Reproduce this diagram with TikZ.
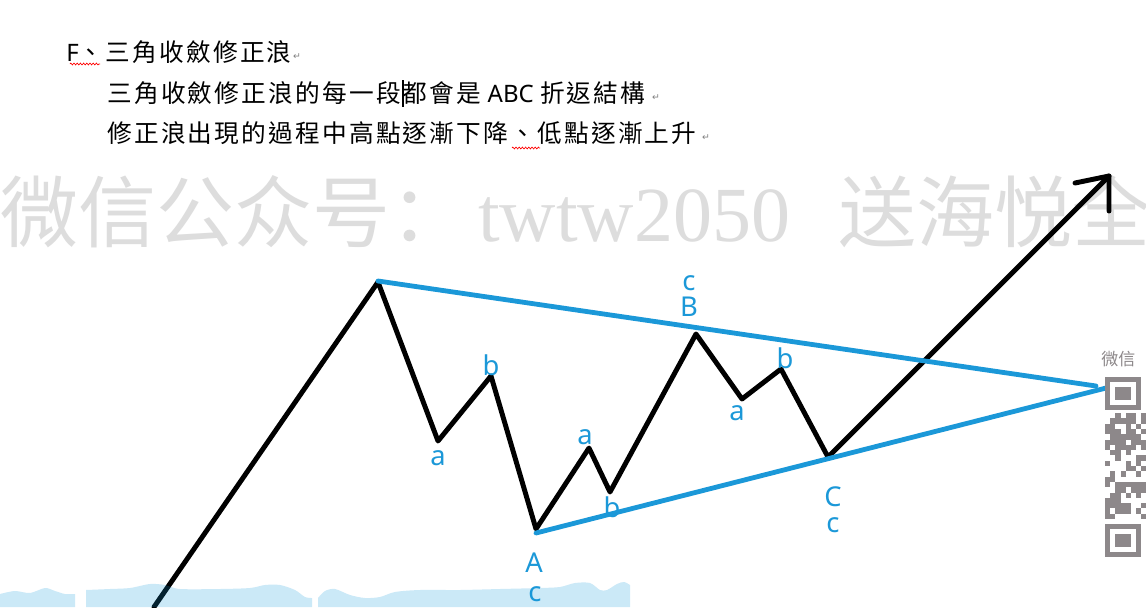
\documentclass[tikz,border=0pt]{standalone}
\usepackage{fontspec}
\newfontfamily\cjk[LetterSpace=9]{Noto Sans CJK TC}
\newfontfamily\cjksc{Noto Sans CJK SC}
\newfontfamily\labfont{Noto Sans}
\newfontfamily\serfont{Liberation Serif}
\newfontfamily\dvfont{DejaVu Sans}
\usetikzlibrary{decorations.pathmorphing}
\definecolor{wblue}{RGB}{27,152,216}
\definecolor{wmark}{RGB}{221,221,221}
\definecolor{qrgray}{RGB}{141,136,138}
\definecolor{bandc}{RGB}{20,155,220}
\newcommand\latn{\labfont\fontsize{18}{20}\selectfont}
\begin{document}
\begin{tikzpicture}[x=0.75pt,y=-0.75pt,
  wave/.style={line width=3.7pt,line join=round,line cap=round,black},
  trend/.style={line width=3.6pt,wblue,line cap=round},
  lbl/.style={text=wblue,font=\labfont\fontsize{20.5}{24}\selectfont,inner sep=0},
  txt/.style={inner sep=0,anchor=west,font=\cjk\fontsize{18.5}{20}\selectfont},
  wm/.style={inner sep=0,anchor=base west,text=wmark,font=\cjksc\fontsize{58.5}{60}\selectfont},
  wmlat/.style={inner sep=0,anchor=base west,text=wmark,font=\serfont\fontsize{58.5}{60}\selectfont},
  pmark/.style={inner sep=0,text=gray,font=\dvfont\fontsize{7}{8}\selectfont},
  squig/.style={red,line width=0.5pt,decorate,decoration={zigzag,amplitude=0.7pt,segment length=2.4pt}},
  bandfill/.style={fill=bandc,fill opacity=0.22},
  qr/.style={fill=qrgray}]
\useasboundingbox (0,0) rectangle (1146,607);
\fill[white] (0,0) rectangle (1146,607);
\clip (0,0) rectangle (1146,607);

% watermark
\node[wm] (w1) at (0,241) {微信公众号：};
\node[wmlat] (w2) at (478,241) {twtw2050};
\node[wm] (w3) at (838,241) {送海悦全};

% heading text
\node[txt] (t1) at (66,52) {{\latn F}、三角收斂修正浪};
\node[txt] (t2) at (107,93) {三角收斂修正浪的每一段都會是{\latn\ ABC\ }折返結構};
\node[txt] (t3) at (107,133) {修正浪出現的過程中高點逐漸下降、低點逐漸上升};
\node[pmark] (m1) at (297,57) {↵};
\node[pmark] (m2) at (656,98) {↵};
\node[pmark] (m3) at (706,138) {↵};
\draw[squig] (70,64) -- (100,64);
\draw[squig] (512,148) -- (540,148);
\draw[line width=1.2pt] (403,80) -- (403,107);

% wave
\coordinate (p0) at (154,607);
\coordinate (p1) at (378,282);
\coordinate (p2) at (438,441);
\coordinate (p3) at (491,376);
\coordinate (p4) at (536,529);
\coordinate (p5) at (589,448);
\coordinate (p6) at (610,492);
\coordinate (p7) at (696,334);
\coordinate (p8) at (742,399);
\coordinate (p9) at (781,369);
\coordinate (p10) at (828,457);
\coordinate (tip) at (1109,176);
\coordinate (hl) at (1075,183);
\coordinate (hd) at (1109,211);
\draw[wave] (p0) -- (p1) -- (p2) -- (p3) -- (p4) -- (p5) -- (p6) -- (p7) -- (p8) -- (p9) -- (p10) -- (tip);
\draw[wave] (hl) -- (tip) -- (hd);

% trend lines
\coordinate (u0) at (378,281);
\coordinate (u1) at (1096,386);
\coordinate (l0) at (536,533);
\coordinate (l1) at (1110,387);
\draw[trend] (u0) -- (u1);
\draw[trend] (l0) -- (l1);

% labels
\node[lbl] (la1) at (438,458) {a};
\node[lbl] (lb1) at (491,365) {b};
\node[lbl] (lA) at (534,563) {A};
\node[lbl] (lAc) at (535,594) {c};
\node[lbl] (la2) at (585,437) {a};
\node[lbl] (lb2) at (612,507) {b};
\node[lbl] (lBc) at (689,283) {c};
\node[lbl] (lB) at (689,307) {B};
\node[lbl] (la3) at (737,413) {a};
\node[lbl] (lb3) at (785,358) {b};
\node[lbl] (lC) at (833,497) {C};
\node[lbl] (lCc) at (833,525) {c};

% QR code
\node[inner sep=0,anchor=west,text=qrgray,font=\cjksc\fontsize{12.75}{14}\selectfont] (qt) at (1101,359) {微信};
\fill[qr] (1105,377) rectangle (1141,410);
\fill[white] (1110,382) rectangle (1136,405);
\fill[qr] (1115,387) rectangle (1131,400);
\fill[qr] (1105,524) rectangle (1141,557);
\fill[white] (1110,529) rectangle (1136,552);
\fill[qr] (1115,534) rectangle (1131,547);
\pgfmathsetseed{12}
\foreach \i in {0,...,7}{
  \foreach \j in {0,...,19}{
    \pgfmathtruncatemacro\rr{rnd>0.45}
    \ifnum\rr=1 \fill[qr] ({1105+5.2*\i},{413+5.3*\j}) rectangle +(5.2,5.3);\fi
  }
}

% bottom band
\fill[bandfill] plot[smooth] coordinates {(0,594) (15,591) (30,593) (45,588) (55,591) (65,594) (75,594)} -- (75,607) -- (0,607) -- cycle;
\fill[bandfill] plot[smooth] coordinates {(86,590) (110,589) (130,588) (150,584) (165,585) (180,589) (220,589) (250,588) (265,585) (280,585) (295,590) (305,597) (312,598)} -- (312,607) -- (86,607) -- cycle;
\fill[bandfill] plot[smooth] coordinates {(318,598) (325,591) (335,589) (350,595) (365,598) (380,597) (395,592) (420,590) (460,590) (500,589) (540,588) (560,587) (575,583) (590,583) (600,590) (607,590) (617,584) (624,582) (630,585)} -- (630,607) -- (318,607) -- cycle;
\end{tikzpicture}
\end{document}
